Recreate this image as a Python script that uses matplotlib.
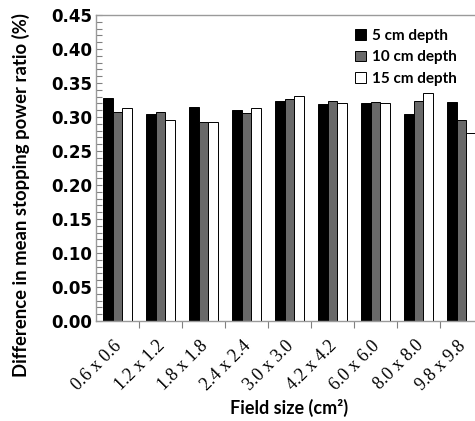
import matplotlib
matplotlib.use('Agg')
import matplotlib.pyplot as plt
import matplotlib.transforms as mtransforms
from matplotlib.ticker import MultipleLocator, FixedLocator
import numpy as np

# field sizes and mean stopping power ratio differences (%)
field_sizes = ['0.6 x 0.6', '1.2 x 1.2', '1.8 x 1.8', '2.4 x 2.4', '3.0 x 3.0',
               '4.2 x 4.2', '6.0 x 6.0', '8.0 x 8.0', '9.8 x 9.8']
depth_labels = ['5 cm depth', '10 cm depth', '15 cm depth']
diff_5cm = [0.328, 0.304, 0.315, 0.311, 0.323, 0.319, 0.320, 0.304, 0.322]
diff_10cm = [0.308, 0.308, 0.293, 0.306, 0.326, 0.324, 0.322, 0.324, 0.295]
diff_15cm = [0.313, 0.296, 0.293, 0.314, 0.331, 0.321, 0.320, 0.336, 0.277]

fig = plt.figure(figsize=(4.75, 4.21), dpi=100)
ax = fig.add_axes([0.2021, 0.2375, 0.8147, 0.7268])

x = np.arange(len(field_sizes))
w = 0.23
colors = ['#000000', '#696969', '#ffffff']
for i, (vals, lab) in enumerate(zip([diff_5cm, diff_10cm, diff_15cm], depth_labels)):
    ax.bar(x + (i - 1) * w, vals, w, color=colors[i], edgecolor='black',
           linewidth=0.7, label=lab)

ax.set_xlim(-0.5, len(field_sizes) - 0.5)
ax.set_ylim(0, 0.45)

# y ticks inside, minor every 0.01
ax.yaxis.set_major_locator(MultipleLocator(0.05))
ax.yaxis.set_minor_locator(MultipleLocator(0.01))
ax.tick_params(axis='y', which='both', direction='in', length=4, width=0.8,
               color='#808080', pad=3)
ax.set_yticklabels(['%.2f' % v for v in ax.get_yticks()],
                   fontfamily='DejaVu Sans', fontweight='bold', fontsize=12)

# x ticks between groups, labels at group centres
ax.xaxis.set_major_locator(FixedLocator(x))
ax.xaxis.set_minor_locator(FixedLocator(x[:-1] + 0.5))
ax.tick_params(axis='x', which='major', length=0, pad=16)
ax.tick_params(axis='x', which='minor', direction='out', length=5, width=0.8,
               color='#808080')
ax.set_xticklabels(field_sizes, rotation=45, ha='right', va='center',
                   rotation_mode='anchor', fontfamily='Liberation Serif',
                   fontsize=13)
offset = mtransforms.ScaledTranslation(2 / 100, 0, fig.dpi_scale_trans)
for t in ax.get_xticklabels():
    t.set_transform(t.get_transform() + offset)

for side in ['left', 'bottom', 'top']:
    ax.spines[side].set_color('#9a9a9a')
    ax.spines[side].set_linewidth(1.0)
ax.spines['right'].set_visible(False)

ax.set_ylabel('Difference in mean stopping power ratio (%)', fontfamily='Lato',
              fontweight='bold', fontsize=13.3)
ax.yaxis.set_label_coords(-0.17, 0.41)
ax.set_xlabel('Field size (cm²)', fontfamily='Lato', fontweight='bold',
              fontsize=13)
ax.xaxis.set_label_coords(0.5, -0.255)

ax.legend(loc='upper left', bbox_to_anchor=(0.635, 1.0), frameon=False,
          prop={'family': 'Lato', 'weight': 'bold', 'size': 11},
          handlelength=0.7, handleheight=0.7, handletextpad=0.4,
          labelspacing=0.5)

fig.savefig('out.png', dpi=100)
